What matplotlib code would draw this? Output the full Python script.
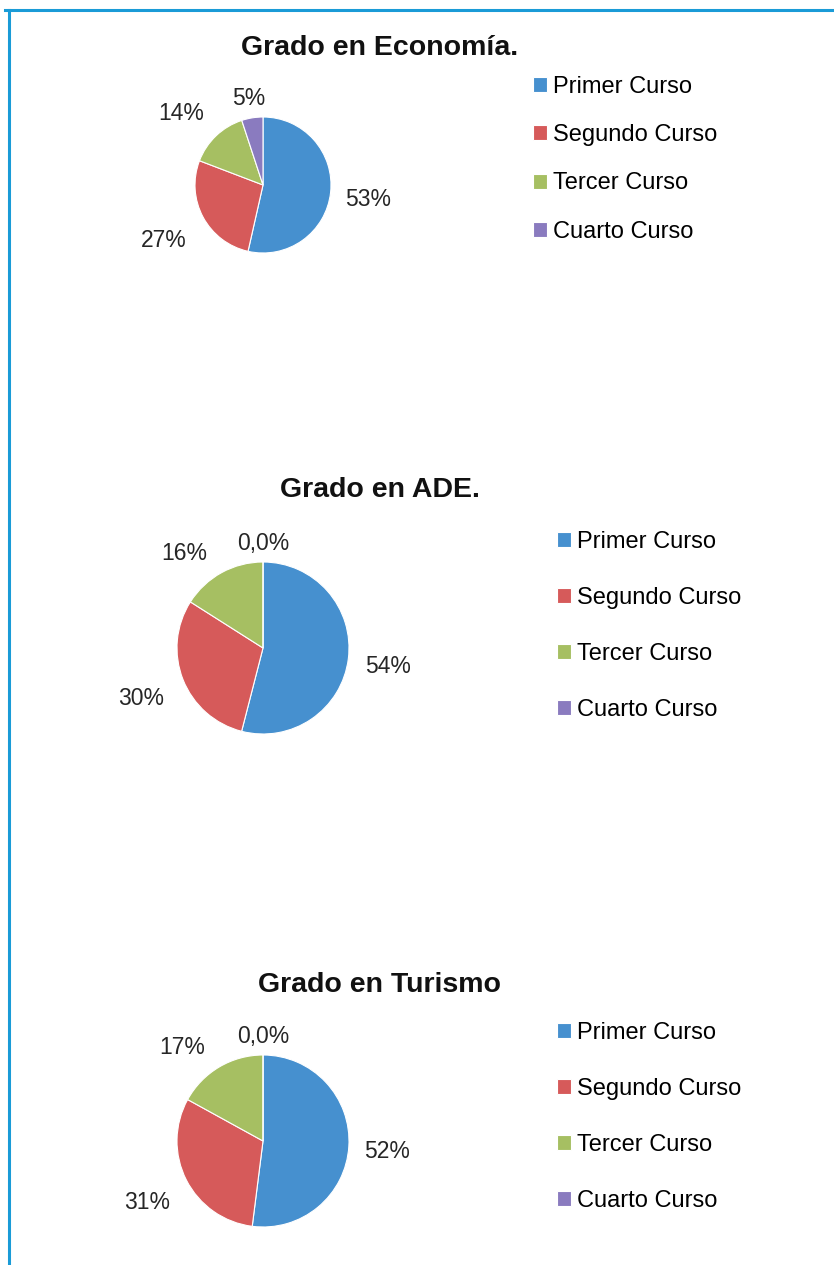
import matplotlib.pyplot as plt
from matplotlib.lines import Line2D
import numpy as np

W, H = 834, 1265

# datos
cursos = ["Primer Curso", "Segundo Curso", "Tercer Curso", "Cuarto Curso"]
colores = ["#4690cf", "#d65a5a", "#a6bf62", "#8a7bbf"]

titulos = ["Grado en Economía.", "Grado en ADE.", "Grado en Turismo"]
economia = [53, 27, 14, 5]
ade = [54, 30, 16, 0]
turismo = [52, 31, 17, 0]
series = [economia, ade, turismo]

# layout in pixels (top-left origin)
centros = [(263, 185, 68), (263, 648, 86), (263, 1141, 86)]
titulo_pos = [(380, 55), (380, 497), (379, 992)]
leyenda_pos = [(533, 76, 1.11), (557, 531, 1.44), (557, 1022, 1.44)]
# distance (in radii) and angular shift of each percentage label
dist_etiquetas = [[1.55, 1.66, 1.62, 1.33],
                  [1.47, 1.52, 1.455, 1.24],
                  [1.45, 1.51, 1.46, 1.24]]
giro_etiquetas = [[0, 0, 4.5, 0],
                  [0, 0, 10.4, 0],
                  [0, 0, 9.6, 0]]

fuente = ["Liberation Sans", "DejaVu Sans"]


def etiqueta(v):
    return "0,0%" if v == 0 else "%d%%" % v


fig = plt.figure(figsize=(W / 100, H / 100), dpi=100)
fig.patch.set_facecolor("white")

for i, vals in enumerate(series):
    cx, cy, r = centros[i]
    ax = fig.add_axes([(cx - r) / W, (H - cy - r) / H, 2 * r / W, 2 * r / H])
    wedges, _ = ax.pie(vals, colors=colores, startangle=90, counterclock=False,
                       radius=1, wedgeprops=dict(edgecolor="white", linewidth=0.8))
    ax.set_xlim(-1, 1)
    ax.set_ylim(-1, 1)
    ax.set_aspect("equal")
    ax.axis("off")

    for w, v, d, g in zip(wedges, vals, dist_etiquetas[i], giro_etiquetas[i]):
        ang = np.deg2rad((w.theta1 + w.theta2) / 2 + g)
        ax.text(d * np.cos(ang), d * np.sin(ang), etiqueta(v), ha="center",
                va="center_baseline", fontsize=16.5, family=fuente, color="#262626")

    tx, ty = titulo_pos[i]
    fig.text(tx / W, 1 - ty / H, titulos[i], ha="center", va="baseline",
             fontsize=20.5, fontweight="bold", family=fuente, color="#111111")

    lx, ly, sp = leyenda_pos[i]
    fig.legend(wedges, cursos, loc="upper left",
               bbox_to_anchor=(lx / W, 1 - ly / H), frameon=False,
               borderpad=0, borderaxespad=0, handlelength=0.6, handleheight=0.6,
               handletextpad=0.25, labelspacing=sp,
               prop=dict(family=fuente, size=17))

# marco azul
fig.add_artist(Line2D([5 / W, 1], [1 - 9.5 / H, 1 - 9.5 / H], color="#1a9bd7",
                      linewidth=2.2, transform=fig.transFigure))
fig.add_artist(Line2D([8.5 / W, 8.5 / W], [0, 1 - 9.5 / H], color="#1a9bd7",
                      linewidth=2.2, transform=fig.transFigure))

fig.savefig("out.png", dpi=100, facecolor="white")
